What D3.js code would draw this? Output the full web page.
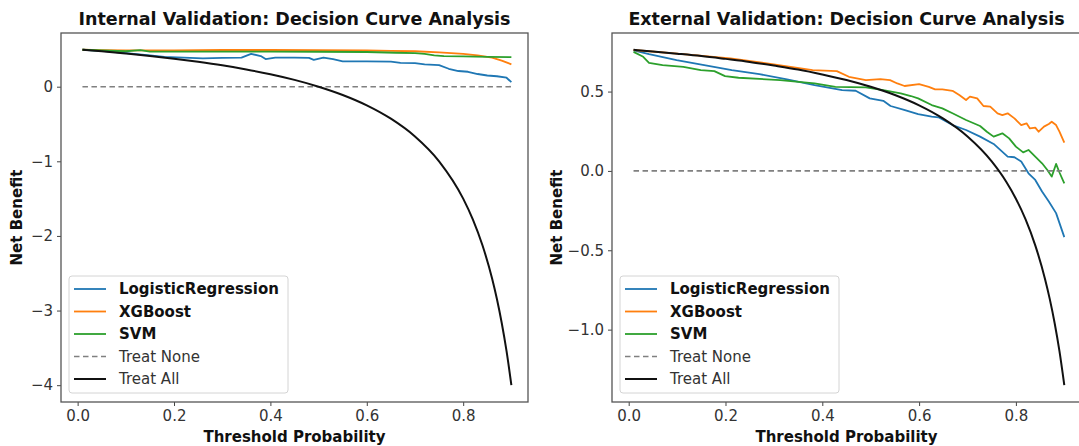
<!DOCTYPE html>
<html>
<head>
<meta charset="utf-8">
<script src="https://cdn.jsdelivr.net/npm/d3@7"></script>
<style>
  body { margin: 0; background: #fff; }
  svg text { font-family: "DejaVu Sans", sans-serif; }
</style>
</head>
<body>
<svg id="chart" width="1079" height="446"></svg>
<script>
// ---------------- data ----------------
const xTicks = [0.0, 0.2, 0.4, 0.6, 0.8];
const internalYTicks = [0, -1, -2, -3, -4];
const externalYTicks = [0.5, 0.0, -0.5, -1.0];
const legendNames = ["LogisticRegression", "XGBoost", "SVM", "Treat None", "Treat All"];

// internal validation, [threshold, net benefit]
const internalLR = [[0.01,0.495],[0.05,0.48],[0.1,0.45],[0.15,0.42],[0.18,0.40],[0.22,0.39],[0.26,0.38],[0.3,0.385],[0.34,0.39],[0.36,0.44],[0.38,0.41],[0.39,0.37],[0.41,0.39],[0.45,0.39],[0.48,0.385],[0.49,0.36],[0.51,0.39],[0.53,0.37],[0.55,0.34],[0.6,0.34],[0.65,0.335],[0.67,0.32],[0.7,0.315],[0.72,0.30],[0.75,0.29],[0.77,0.24],[0.79,0.21],[0.81,0.20],[0.83,0.17],[0.85,0.15],[0.87,0.14],[0.89,0.12],[0.9,0.06]];
const internalXGB = [[0.01,0.495],[0.05,0.49],[0.1,0.487],[0.2,0.488],[0.3,0.492],[0.4,0.492],[0.5,0.49],[0.6,0.485],[0.65,0.48],[0.7,0.475],[0.75,0.46],[0.8,0.44],[0.83,0.42],[0.86,0.39],[0.88,0.35],[0.9,0.30]];
const internalSVM = [[0.01,0.495],[0.05,0.485],[0.1,0.475],[0.13,0.49],[0.15,0.47],[0.2,0.47],[0.3,0.47],[0.4,0.47],[0.5,0.468],[0.6,0.465],[0.66,0.455],[0.7,0.45],[0.72,0.44],[0.74,0.42],[0.76,0.41],[0.8,0.405],[0.85,0.40],[0.9,0.395]];
const internalNone = [[0.01,0],[0.9,0]];
const internalAll = [[0.01,0.495],[0.05,0.474],[0.1,0.444],[0.15,0.412],[0.2,0.375],[0.25,0.333],[0.3,0.286],[0.35,0.231],[0.4,0.167],[0.45,0.091],[0.5,0],[0.55,-0.111],[0.6,-0.25],[0.65,-0.429],[0.7,-0.667],[0.75,-1.0],[0.8,-1.5],[0.82,-1.778],[0.84,-2.125],[0.86,-2.571],[0.87,-2.846],[0.88,-3.167],[0.89,-3.545],[0.9,-4.0]];

// external validation
const externalLR = [[0.01,0.76],[0.042,0.736],[0.099,0.698],[0.156,0.667],[0.213,0.635],[0.27,0.61],[0.327,0.577],[0.384,0.541],[0.441,0.509],[0.469,0.505],[0.498,0.457],[0.526,0.442],[0.541,0.409],[0.569,0.384],[0.598,0.358],[0.626,0.342],[0.64,0.338],[0.669,0.289],[0.697,0.258],[0.726,0.216],[0.754,0.17],[0.783,0.09],[0.797,0.086],[0.811,0.059],[0.826,-0.015],[0.84,-0.057],[0.854,-0.13],[0.868,-0.193],[0.883,-0.266],[0.9,-0.417]];
const externalXGB = [[0.01,0.762],[0.1,0.739],[0.21,0.709],[0.31,0.667],[0.38,0.635],[0.43,0.629],[0.455,0.593],[0.49,0.572],[0.52,0.579],[0.54,0.572],[0.555,0.551],[0.57,0.535],[0.6,0.547],[0.62,0.53],[0.633,0.514],[0.648,0.514],[0.669,0.505],[0.683,0.478],[0.697,0.447],[0.705,0.468],[0.72,0.457],[0.733,0.409],[0.747,0.405],[0.762,0.363],[0.772,0.352],[0.783,0.363],[0.797,0.331],[0.811,0.289],[0.822,0.30],[0.829,0.268],[0.84,0.273],[0.847,0.247],[0.858,0.279],[0.868,0.296],[0.874,0.31],[0.883,0.289],[0.89,0.247],[0.9,0.178]];
const externalSVM = [[0.01,0.75],[0.03,0.719],[0.042,0.681],[0.07,0.667],[0.113,0.656],[0.149,0.635],[0.177,0.629],[0.199,0.597],[0.227,0.587],[0.313,0.572],[0.384,0.551],[0.427,0.53],[0.49,0.526],[0.526,0.509],[0.562,0.488],[0.583,0.472],[0.598,0.457],[0.626,0.415],[0.648,0.394],[0.669,0.363],[0.697,0.321],[0.726,0.283],[0.74,0.247],[0.754,0.216],[0.772,0.237],[0.786,0.205],[0.8,0.153],[0.815,0.117],[0.826,0.132],[0.84,0.09],[0.854,0.048],[0.865,0.006],[0.874,-0.036],[0.883,0.044],[0.89,-0.01],[0.9,-0.078]];
const externalNone = [[0.01,0],[0.9,0]];
const externalAll = [[0.01,0.763],[0.05,0.753],[0.1,0.739],[0.15,0.724],[0.2,0.706],[0.25,0.687],[0.3,0.664],[0.35,0.639],[0.4,0.608],[0.45,0.573],[0.5,0.53],[0.55,0.478],[0.6,0.413],[0.65,0.329],[0.7,0.217],[0.75,0.06],[0.78,-0.068],[0.8,-0.175],[0.82,-0.306],[0.84,-0.469],[0.86,-0.679],[0.87,-0.808],[0.88,-0.958],[0.89,-1.136],[0.9,-1.35]];

// ---------------- drawing ----------------
const svg = d3.select("#chart");
const plotTop = 33, plotBottom = 402;
const fontSize = 15;

const styles = [
  {color: "#1f77b4", dash: null, width: 1.8, bold: true},
  {color: "#ff7f0e", dash: null, width: 1.8, bold: true},
  {color: "#2ca02c", dash: null, width: 1.8, bold: true},
  {color: "#808080", dash: "5.5,3.5", width: 1.6, bold: false},
  {color: "#111111", dash: null, width: 2, bold: false}
];

function drawPanel(left, right, title, yDomain, yTicks, yFmt, labelOffset, series) {
  let x = d3.scaleLinear().domain([-0.0345, 0.9345]).range([left, right]);
  let y = d3.scaleLinear().domain(yDomain).range([plotBottom, plotTop]);

  let g = svg.append("g");

  let line = d3.line()
      .x(d => x(d[0]))
      .y(d => y(d[1]));

  // clip so lines stay inside plot
  let clipId = "clip" + left;
  svg.append("clipPath").attr("id", clipId)
    .append("rect").attr("x", left).attr("y", plotTop)
    .attr("width", right - left).attr("height", plotBottom - plotTop);

  let lines = g.append("g").attr("clip-path", "url(#" + clipId + ")");
  // draw in matplotlib order: models, treat none, treat all
  series.forEach(function(s, i) {
    lines.append("path")
      .datum(s)
      .attr("fill", "none")
      .attr("stroke", styles[i].color)
      .attr("stroke-width", styles[i].width)
      .attr("stroke-dasharray", styles[i].dash)
      .attr("stroke-linejoin", "round")
      .attr("d", i == 4 ? line.curve(d3.curveMonotoneX)(s) : line.curve(d3.curveLinear)(s));
  });

  // axes
  let xAxis = g.append("g")
    .attr("transform", "translate(0," + plotBottom + ")")
    .call(d3.axisBottom(x).tickValues(xTicks).tickFormat(d3.format(".1f")).tickSize(4).tickPadding(4));
  let yAxis = g.append("g")
    .attr("transform", "translate(" + left + ",0)")
    .call(d3.axisLeft(y).tickValues(yTicks).tickFormat(yFmt).tickSize(4).tickPadding(4));

  [xAxis, yAxis].forEach(function(a) {
    a.select(".domain").remove();
    a.selectAll("line").attr("stroke", "#444").attr("stroke-width", 1);
    a.selectAll("text").attr("font-size", fontSize).attr("fill", "#333").attr("font-family", "DejaVu Sans");
  });

  // frame
  g.append("rect")
    .attr("x", left).attr("y", plotTop)
    .attr("width", right - left).attr("height", plotBottom - plotTop)
    .attr("fill", "none").attr("stroke", "#555").attr("stroke-width", 1.3);

  let cx = (left + right) / 2;
  g.append("text")
    .attr("x", cx).attr("y", 25)
    .attr("text-anchor", "middle")
    .attr("font-size", 17.5).attr("font-weight", "bold").attr("fill", "#111")
    .text(title);

  g.append("text")
    .attr("x", cx).attr("y", 442)
    .attr("text-anchor", "middle")
    .attr("font-size", fontSize).attr("font-weight", "bold").attr("fill", "#111")
    .text("Threshold Probability");

  g.append("text")
    .attr("transform", "translate(" + (left - labelOffset) + "," + ((plotTop + plotBottom) / 2) + ") rotate(-90)")
    .attr("text-anchor", "middle")
    .attr("font-size", fontSize).attr("font-weight", "bold").attr("fill", "#111")
    .text("Net Benefit");

  // legend
  let lx = left + 8, ly = 276;
  let legend = g.append("g");
  legend.append("rect")
    .attr("x", lx).attr("y", ly)
    .attr("width", 219).attr("height", 117)
    .attr("rx", 3)
    .attr("fill", "#fff").attr("fill-opacity", 0.85)
    .attr("stroke", "#d4d4d4").attr("stroke-width", 1);

  let items = legend.selectAll("g.item")
    .data(legendNames)
    .enter().append("g")
    .attr("class", "item")
    .attr("transform", (d, i) => "translate(" + lx + "," + (289 + i * 22.5) + ")");

  items.append("line")
    .attr("x1", 5).attr("x2", 37)
    .attr("stroke", (d, i) => styles[i].color)
    .attr("stroke-width", (d, i) => styles[i].width)
    .attr("stroke-dasharray", (d, i) => styles[i].dash);

  items.append("text")
    .attr("x", 50).attr("y", 5)
    .attr("font-size", fontSize)
    .attr("font-weight", (d, i) => styles[i].bold ? "bold" : "normal")
    .attr("fill", (d, i) => styles[i].bold ? "#111" : "#333")
    .text(d => d);
}

drawPanel(61, 528, "Internal Validation: Decision Curve Analysis",
  [-4.2255, 0.7195], internalYTicks, d3.format("d"), 39,
  [internalLR, internalXGB, internalSVM, internalNone, internalAll]);

drawPanel(612, 1081, "External Validation: Decision Curve Analysis",
  [-1.456, 0.869], externalYTicks, d3.format(".1f"), 50,
  [externalLR, externalXGB, externalSVM, externalNone, externalAll]);
</script>
</body>
</html>
